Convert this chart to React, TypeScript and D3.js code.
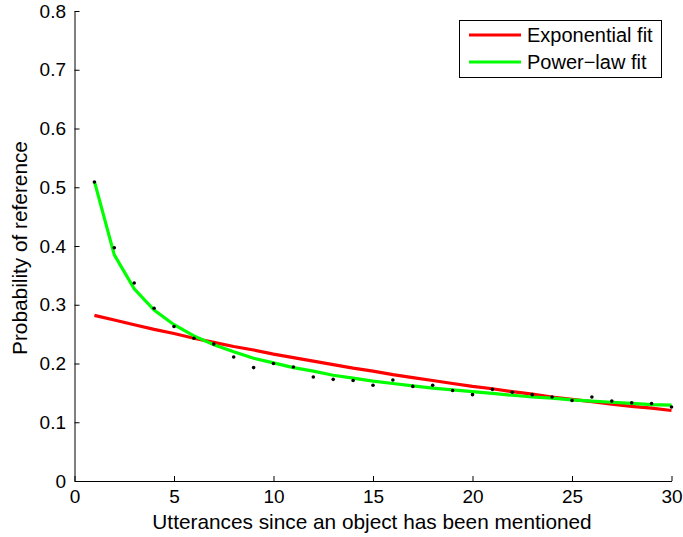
import React, { useRef, useEffect } from 'react';
import * as d3 from 'd3';

// utterance distance 1..30
const utterances = d3.range(1, 31);

// observed probability of reference (black dots)
const observed = [
  0.509, 0.397, 0.337, 0.294, 0.263, 0.243, 0.233, 0.211, 0.193, 0.200,
  0.194, 0.177, 0.173, 0.171, 0.163, 0.172, 0.161, 0.163, 0.154, 0.147,
  0.156, 0.151, 0.147, 0.143, 0.137, 0.143, 0.136, 0.133, 0.132, 0.126,
];

// exponential fit (red)
const expFit = [
  0.282, 0.274, 0.266, 0.258, 0.251, 0.243, 0.236, 0.229, 0.223, 0.216,
  0.210, 0.204, 0.198, 0.192, 0.187, 0.181, 0.176, 0.171, 0.166, 0.161,
  0.157, 0.152, 0.148, 0.143, 0.139, 0.135, 0.131, 0.127, 0.124, 0.120,
];

// power-law fit (green)
const powFit = [
  0.510, 0.385, 0.327, 0.291, 0.266, 0.247, 0.232, 0.220, 0.209, 0.201,
  0.193, 0.187, 0.180, 0.175, 0.170, 0.166, 0.162, 0.158, 0.155, 0.152,
  0.149, 0.146, 0.143, 0.141, 0.138, 0.136, 0.134, 0.132, 0.130, 0.129,
];

const xTicks = [0, 5, 10, 15, 20, 25, 30];
const yTicks = [0, 0.1, 0.2, 0.3, 0.4, 0.5, 0.6, 0.7, 0.8];
const legendItems = [
  { label: 'Exponential fit', color: '#ff0000' },
  { label: 'Power\u2212law fit', color: '#00ff00' },
];

export default function App() {
  const svgRef = useRef<SVGSVGElement>(null);

  useEffect(() => {
    const width = 683;
    const height = 537;
    const font = '"Liberation Sans", Arial, Helvetica, sans-serif';
    const svg = d3.select(svgRef.current);
    svg.selectAll('*').remove();
    svg.attr('width', width).attr('height', height);

    const x = d3.scaleLinear().domain([0, 30]).range([74.5, 671.5]);
    const y = d3.scaleLinear().domain([0, 0.8]).range([481, 11]);

    // axes (MATLAB style, ticks pointing inward, box off)
    const xAxis = d3.axisBottom(x).tickValues(xTicks).tickSizeInner(-5).tickSizeOuter(0).tickPadding(9).tickFormat(d3.format('d'));
    const yAxis = d3.axisLeft(y).tickValues(yTicks).tickSizeInner(-5).tickSizeOuter(0).tickPadding(8.5)
      .tickFormat(d => (d === 0 ? '0' : d3.format('.1f')(d as number)));

    const gx = svg.append('g').attr('transform', `translate(0,${y(0)})`).call(xAxis);
    const gy = svg.append('g').attr('transform', `translate(${x(0)},0)`).call(yAxis);
    [gx, gy].forEach(g => {
      g.select('.domain').attr('stroke', '#000');
      g.selectAll('.tick line').attr('stroke', '#000');
      g.selectAll('.tick text').attr('fill', '#000').style('font-family', font).style('font-size', '19px');
    });

    const line = d3.line<number>()
      .x((d, i) => x(utterances[i]))
      .y(d => y(d));

    svg.append('path').datum(expFit).attr('d', line)
      .attr('fill', 'none').attr('stroke', '#ff0000').attr('stroke-width', 3.2);
    svg.append('path').datum(powFit).attr('d', line)
      .attr('fill', 'none').attr('stroke', '#00ff00').attr('stroke-width', 3.2);

    svg.append('g').selectAll('circle').data(observed).join('circle')
      .attr('cx', (d, i) => x(utterances[i]))
      .attr('cy', d => y(d))
      .attr('r', 1.8)
      .attr('fill', '#000');

    // axis titles
    svg.append('text')
      .attr('x', (x(0) + x(30)) / 2 - 1)
      .attr('y', 529)
      .attr('text-anchor', 'middle')
      .style('font-family', font).style('font-size', '20.8px')
      .text('Utterances since an object has been mentioned');
    svg.append('text')
      .attr('transform', `translate(27,${(y(0) + y(0.8)) / 2 + 2}) rotate(-90)`)
      .attr('text-anchor', 'middle')
      .style('font-family', font).style('font-size', '20.8px')
      .text('Probability of reference');

    // legend
    const lg = svg.append('g');
    lg.append('rect').attr('x', 459.5).attr('y', 20.5).attr('width', 202).attr('height', 57)
      .attr('fill', '#fff').attr('stroke', '#000').attr('stroke-width', 1);
    legendItems.forEach((item, i) => {
      const cy = 35 + i * 27;
      lg.append('line').attr('x1', 469).attr('x2', 521).attr('y1', cy).attr('y2', cy)
        .attr('stroke', item.color).attr('stroke-width', 3.2);
      lg.append('text').attr('x', 527).attr('y', cy + 7)
        .style('font-family', font).style('font-size', '20px')
        .text(item.label);
    });
  }, []);

  return (
    <div>
      <svg ref={svgRef} style={{ position: 'absolute', left: 0, top: 0, background: '#fff' }}></svg>
    </div>
  );
}
